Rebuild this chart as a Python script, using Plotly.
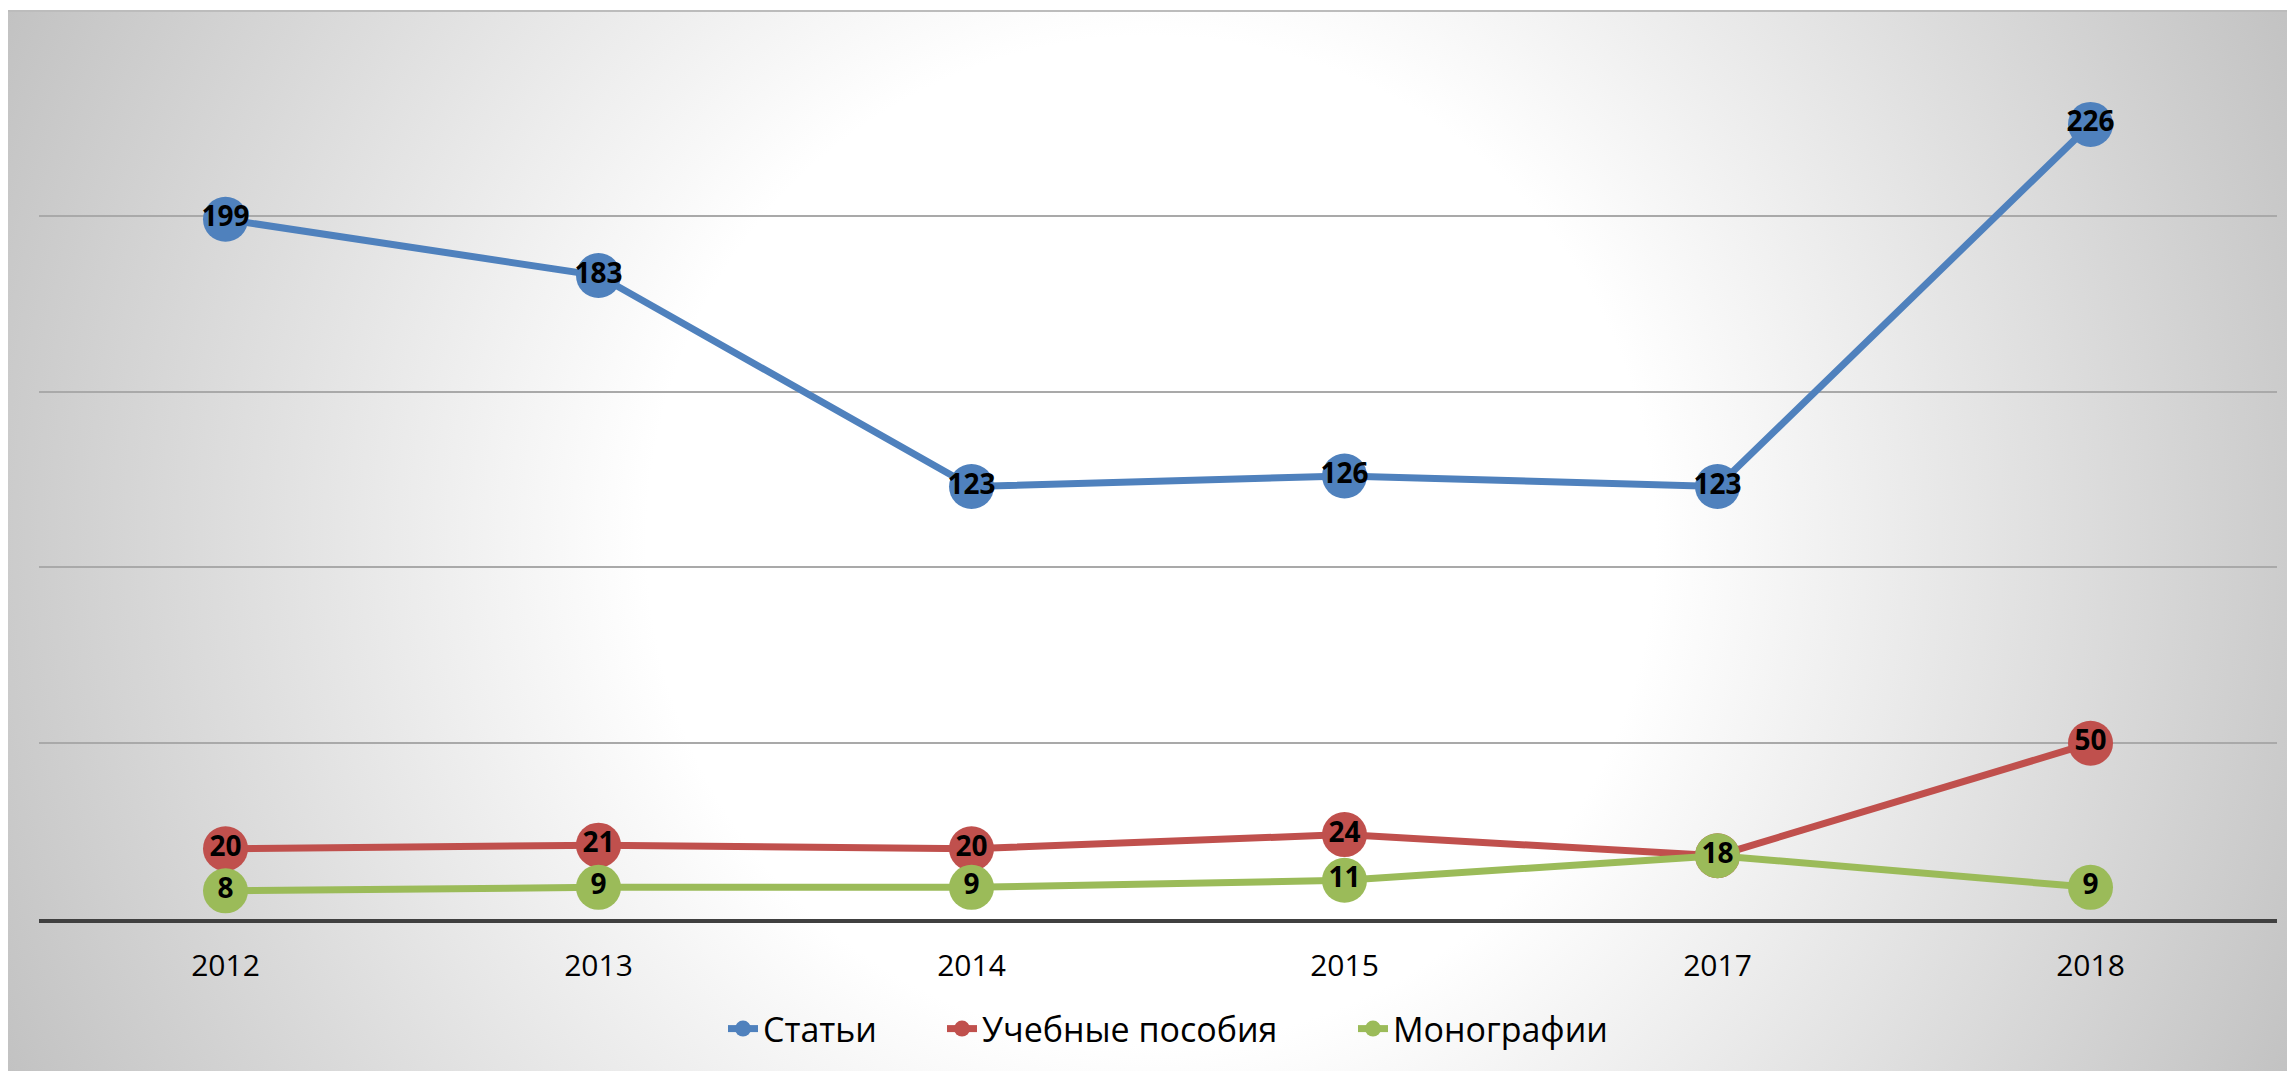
import base64
import plotly.graph_objects as go

# ---- data ----
years = ["2012", "2013", "2014", "2015", "2017", "2018"]
articles = [199, 183, 123, 126, 123, 226]
textbooks = [20, 21, 20, 24, 18, 50]
monographs = [8, 9, 9, 11, 18, 9]

series_names = ["Статьи", "Учебные пособия", "Монографии"]
series_colors = ["#4F81BD", "#C0504D", "#9BBB59"]

# the page body adds an 8px margin, so the figure itself is 8px smaller
W, H = 2287, 1063
ML, MR, MT, MB = 31, 18, 32, 152
PW, PH = W - ML - MR, H - MT - MB

# radial-gradient chart-area background (SVG as a layout image)
BX0, BY0 = 0, 2
BW, BH = W - BX0, H - BY0
cx, cy, r = 1143 - BX0, 532 - BY0, 1260
svg = (
    f'<svg xmlns="http://www.w3.org/2000/svg" width="{BW}" height="{BH}" '
    f'viewBox="0 0 {BW} {BH}" preserveAspectRatio="none">'
    f'<defs><radialGradient id="g" gradientUnits="userSpaceOnUse" cx="{cx}" cy="{cy}" r="{r}">'
    f'<stop offset="0" stop-color="#ffffff"/><stop offset="0.4" stop-color="#ffffff"/>'
    f'<stop offset="1" stop-color="#c2c2c2"/></radialGradient></defs>'
    f'<rect width="{BW}" height="{BH}" fill="url(#g)"/>'
    f'<rect x="0" y="0" width="{BW}" height="2" fill="#bcbcbc"/></svg>'
)
bg_src = "data:image/svg+xml;base64," + base64.b64encode(svg.encode()).decode()

legend_ids = ["legend", "legend2", "legend3"]
legend_text_px = [757, 976, 1387]  # figure-pixel x where each legend text starts

fig = go.Figure()
for name, vals, col, lid in zip(series_names, [articles, textbooks, monographs],
                                series_colors, legend_ids):
    fig.add_trace(go.Scatter(
        x=years, y=vals, name=name, mode="lines+markers+text",
        text=[str(v) for v in vals], textposition="middle center",
        textfont=dict(family="Open Sans", size=28, color="#000000", weight="bold"),
        line=dict(color=col, width=7),
        marker=dict(color=col, size=45, line=dict(width=0)),
        cliponaxis=False, legend=lid,
    ))

leg_common = dict(
    orientation="h", yanchor="middle", y=(H - MB - 1021) / PH, xanchor="left",
    font=dict(family="Open Sans", size=34, color="#000000"),
    bgcolor="rgba(0,0,0,0)", borderwidth=0,
)
legs = {}
for lid, tx in zip(legend_ids, legend_text_px):
    legs[lid] = dict(leg_common, x=(tx - 42 - ML) / PW)

fig.update_layout(
    width=W, height=H,
    margin=dict(l=ML, r=MR, t=MT, b=MB),
    paper_bgcolor="#ffffff",
    plot_bgcolor="rgba(0,0,0,0)",
    font=dict(family="Open Sans", color="#000000"),
    showlegend=True,
    xaxis=dict(
        type="category", range=[-0.5, 5.5], showgrid=False,
        showline=True, linecolor="#404040", linewidth=4,
        ticks="", tickfont=dict(family="Open Sans", size=30, color="#000000"),
        ticklabelstandoff=17, zeroline=False,
    ),
    yaxis=dict(
        range=[0, 250], dtick=50, showticklabels=False,
        showgrid=True, gridcolor="#a9a9a9", gridwidth=1.5,
        zeroline=False, showline=False,
    ),
    images=[dict(
        source=bg_src, xref="paper", yref="paper",
        x=(BX0 - ML) / PW, y=(H - MB - BY0) / PH,
        sizex=BW / PW, sizey=BH / PH,
        xanchor="left", yanchor="top", sizing="stretch", layer="below",
    )],
    **legs,
)

fig.write_html("out.html")
